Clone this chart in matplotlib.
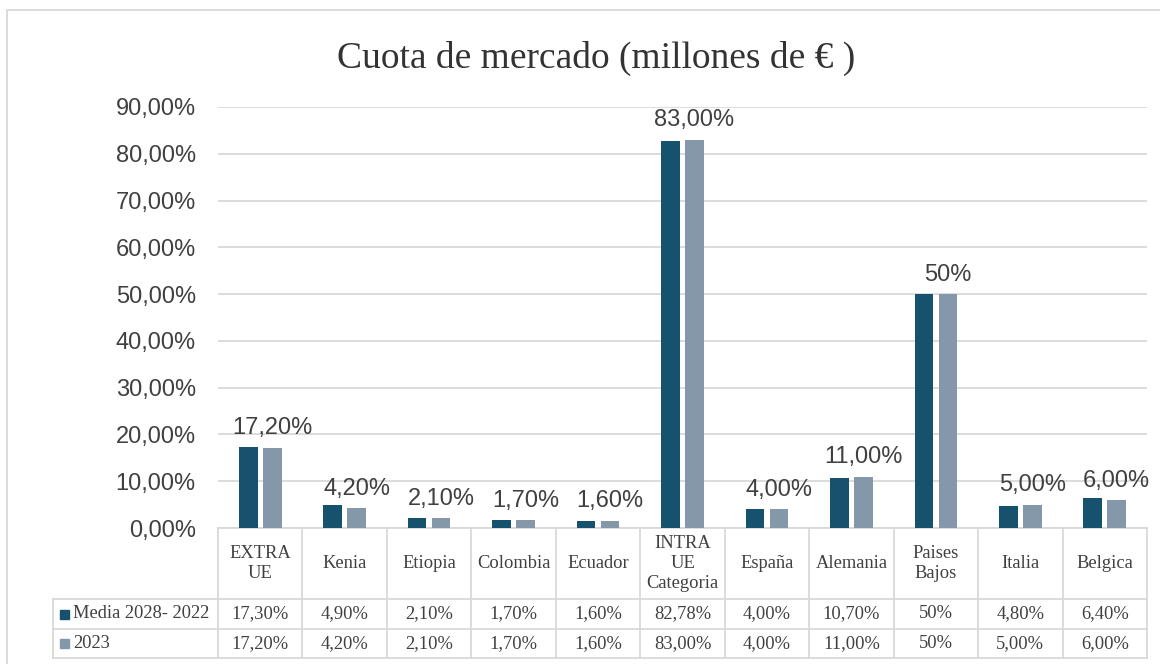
import matplotlib.pyplot as plt
import numpy as np
from matplotlib.patches import Rectangle
from matplotlib.transforms import blended_transform_factory

# data
categories = ['EXTRA\nUE', 'Kenia', 'Etiopia', 'Colombia', 'Ecuador',
              'INTRA\nUE\nCategoria', 'España', 'Alemania', 'Paises\nBajos',
              'Italia', 'Belgica']
media = [17.30, 4.90, 2.10, 1.70, 1.60, 82.78, 4.00, 10.70, 50, 4.80, 6.40]
y2023 = [17.20, 4.20, 2.10, 1.70, 1.60, 83.00, 4.00, 11.00, 50, 5.00, 6.00]
media_txt = ['17,30%', '4,90%', '2,10%', '1,70%', '1,60%', '82,78%',
             '4,00%', '10,70%', '50%', '4,80%', '6,40%']
y2023_txt = ['17,20%', '4,20%', '2,10%', '1,70%', '1,60%', '83,00%',
             '4,00%', '11,00%', '50%', '5,00%', '6,00%']
series_names = ['Media 2028- 2022', '2023']
yticks = np.arange(0, 100, 10)
ytick_txt = ['%d,00%%' % t for t in yticks]

c_dark = '#16516D'
c_light = '#8598AA'
c_grid = '#D9D9D9'
c_text = '#404040'
serif = 'Liberation Serif'
sans = 'Liberation Sans'

W, H = 1160, 664
fig = plt.figure(figsize=(W / 100, H / 100), dpi=100)
ax = fig.add_axes([218 / W, 1 - 528 / H, 929 / W, 421 / H])

# outer chart border
fig.patches.append(Rectangle((7 / W, -0.02), 1.0, 1 - 10 / H + 0.02,
                             transform=fig.transFigure, fill=False,
                             edgecolor=c_grid, lw=1.3))

x = np.arange(len(categories))
bw = 0.22
ax.bar(x - 0.142, media, bw, color=c_dark, zorder=3)
ax.bar(x + 0.142, y2023, bw, color=c_light, zorder=3)

for xi, v, t in zip(x, y2023, y2023_txt):
    ax.annotate(t, (xi + 0.142, v), xytext=(0, 6), textcoords='offset points',
                ha='center', va='bottom', fontsize=17, color=c_text,
                family=sans)

ax.set_xlim(-0.5, len(categories) - 0.5)
ax.set_ylim(0, 90)
ax.set_yticks(yticks)
ax.set_yticklabels(ytick_txt, fontsize=17, color=c_text, family=sans)
ax.tick_params(axis='y', length=0, pad=16)
ax.set_xticks([])
ax.grid(axis='y', color=c_grid, lw=1.3, zorder=0)
for s in ax.spines.values():
    s.set_visible(False)

fig.text(596 / W, 1 - 58 / H, 'Cuota de mercado (millones de € )',
         ha='center', va='center', fontsize=27, family=serif, color='#333333')

# data table
tr = blended_transform_factory(ax.transData, ax.transAxes)
def ay(py):
    return (528 - py) / 421

left = -0.5 - (218 - 53) / 84.45
right = len(categories) - 0.5
y_head, y_r1, y_r2, y_bot = ay(528), ay(599), ay(629), ay(658)
kw = dict(transform=tr, color=c_grid, lw=1.3, clip_on=False, zorder=1)
ax.plot([-0.5, right], [y_head, y_head], **kw)
for yy in (y_r1, y_r2, y_bot):
    ax.plot([left, right], [yy, yy], **kw)
ax.plot([left, left], [y_r1, y_bot], **kw)
for k in range(len(categories) + 1):
    ax.plot([k - 0.5, k - 0.5], [y_head, y_bot], **kw)

tkw = dict(transform=tr, ha='center', va='center', fontsize=13.3,
           family=serif, color=c_text, clip_on=False)
for xi, cat, a, b in zip(x, categories, media_txt, y2023_txt):
    ax.text(xi, (y_head + y_r1) / 2, cat, linespacing=1.25, **tkw)
    ax.text(xi, (y_r1 + y_r2) / 2, a, **tkw)
    ax.text(xi, (y_r2 + y_bot) / 2, b, **tkw)

sq_x = -0.5 - (218 - 60) / 84.45
sq_w = 9 / 84.45
sq_h = 9 / 421
for name, col, (ya, yb) in zip(series_names, [c_dark, c_light],
                               [(y_r1, y_r2), (y_r2, y_bot)]):
    yc = (ya + yb) / 2
    ax.add_patch(Rectangle((sq_x, yc - sq_h / 2), sq_w, sq_h, transform=tr,
                           color=col, clip_on=False))
    ax.text(sq_x + sq_w + 4 / 84.45, yc, name, transform=tr, ha='left',
            va='center', fontsize=13.3, family=serif, color=c_text,
            clip_on=False)

fig.savefig('out.png', dpi=100)
